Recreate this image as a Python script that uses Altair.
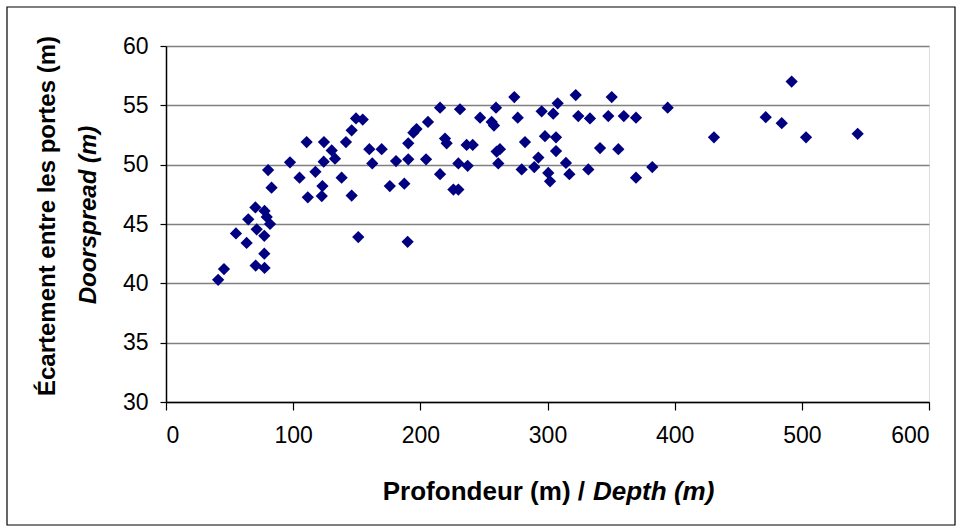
import altair as alt
import pandas as pd

# Depth (m) and doorspread (m)
depth = [41, 45.6, 55, 63.4, 64.7, 70.3, 70.5, 71.3, 77.5, 77.3, 77.3, 77.5, 79.2, 80.3, 81.8, 83,
         97.5, 105, 110.6, 111.5, 117.5, 122.5, 123, 124, 124.2, 130.3, 132.9, 138.1, 141.5, 146, 146,
         149.4, 151.2, 154.7, 159.9, 162.2,
         169.6, 176, 180.9, 187.4, 190, 190.5, 190.5, 194.5, 197, 204.5, 206, 215.5, 215.5, 219.4,
         220.7, 226, 229.9,
         229.9, 231.2, 236.4, 237.2, 241.2, 247, 256.1, 257.9, 259.5, 260, 261.3, 262.6, 273.9, 276.6,
         279.7, 282.3, 289.6, 292.8, 295.4, 298, 300.6, 302, 304.5, 306.7, 306.7, 308, 314.5, 317.2,
         322.2, 324.2, 332.1, 333.4, 341.3, 347.8, 350.5, 355.7, 360, 369.6, 369.6, 382.4, 394.5,
         430.9, 471.6, 484.2, 492, 503.3, 543.9]
spread = [40.3, 41.2, 44.2, 43.4, 45.4, 46.4, 41.5, 44.55, 46.1, 44.0, 42.5, 41.3, 45.6, 49.55, 45.0, 48.06,
          50.2, 48.9, 51.9, 47.25, 49.4, 47.35, 48.2, 50.25, 51.9, 51.2, 50.5, 48.9, 51.9, 52.9, 47.4,
          53.9, 43.9, 53.8, 51.3, 50.1,
          51.3, 48.2, 50.3, 48.4, 43.5, 50.45, 51.8, 52.7, 53.0, 50.45, 53.6, 54.8, 49.2, 52.2,
          51.8, 47.9, 47.9,
          50.1, 54.67, 51.66, 49.9, 51.66, 53.96, 53.6, 53.3, 54.8, 51.1, 50.1, 51.3, 55.7, 53.96,
          49.6, 51.9, 49.8, 50.6, 54.5, 52.4, 49.3, 48.6, 54.3, 52.3, 51.15, 55.17, 50.15, 49.2,
          55.87, 54.1, 49.6, 53.9, 51.4, 54.1, 55.7, 51.3, 54.1, 53.96, 48.9, 49.8, 54.8,
          52.3, 54.0, 53.5, 57.0, 52.3, 52.6]

x_ticks = [0, 100, 200, 300, 400, 500, 600]
y_ticks = [30, 35, 40, 45, 50, 55, 60]

y_title_1 = "Écartement entre les portes (m)"
y_title_2 = "Doorspread (m)"
x_title_1 = "Profondeur (m) /"
x_title_2 = "Depth (m)"

FONT = "Liberation Sans"
W, H = 763, 356
L, T = 166, 46

df = pd.DataFrame({"depth": depth, "spread": spread})

points = alt.Chart(df).mark_point(
    shape="diamond", filled=True, size=150, color="#000080", opacity=1
).encode(
    x=alt.X("depth:Q",
            scale=alt.Scale(domain=[0, 600], nice=False),
            axis=alt.Axis(values=x_ticks, title=None, grid=False, domainColor="black",
                          domainWidth=1.5, tickColor="black", tickSize=8, tickWidth=1.2,
                          labelFont=FONT, labelFontSize=23, labelColor="black",
                          labelPadding=14, format="d")),
    y=alt.Y("spread:Q",
            scale=alt.Scale(domain=[30, 60], nice=False, zero=False),
            axis=alt.Axis(values=y_ticks, title=None, grid=True, gridColor="#808080",
                          gridWidth=1.5, domainColor="black", domainWidth=1.5,
                          tickColor="black", tickSize=6, tickWidth=1.2,
                          labelFont=FONT, labelFontSize=23, labelColor="black",
                          labelPadding=12, format="d")),
)

one = pd.DataFrame({"a": [0]})

def txt(s, x, y, size=24, angle=0, italic=False, align="center"):
    kw = dict(font=FONT, fontSize=size, fontWeight="bold", color="black",
              align=align, baseline="middle")
    if angle:
        kw["angle"] = angle
    if italic:
        kw["fontStyle"] = "italic"
    return alt.Chart(one).mark_text(text=s, **kw).encode(
        x=alt.value(x), y=alt.value(y))

yt1 = txt(y_title_1, 48 - L, 216 - T, angle=270)
yt2 = txt(y_title_2, 89 - L, 215 - T, angle=270, italic=True)
xt1 = txt(x_title_1, 585 - L, 492 - T, size=26, align="right")
xt2 = txt(x_title_2, 593 - L, 492 - T, size=26, italic=True, align="left")

frame = alt.Chart(one).mark_rect(fillOpacity=0, stroke="black", strokeWidth=1.2).encode(
    x=alt.value(7 - L), x2=alt.value(955 - L), y=alt.value(7 - T), y2=alt.value(525 - T))

chart = alt.layer(frame, points, yt1, yt2, xt1, xt2).properties(
    width=W, height=H,
    autosize=alt.AutoSizeParams(type="none"),
    padding={"left": L, "top": T, "right": 959 - L - W, "bottom": 529 - T - H},
).configure_view(stroke="#808080", strokeWidth=1.5).configure(background="white")

chart.save("out.html", embed_options={"renderer": "svg", "actions": False})
